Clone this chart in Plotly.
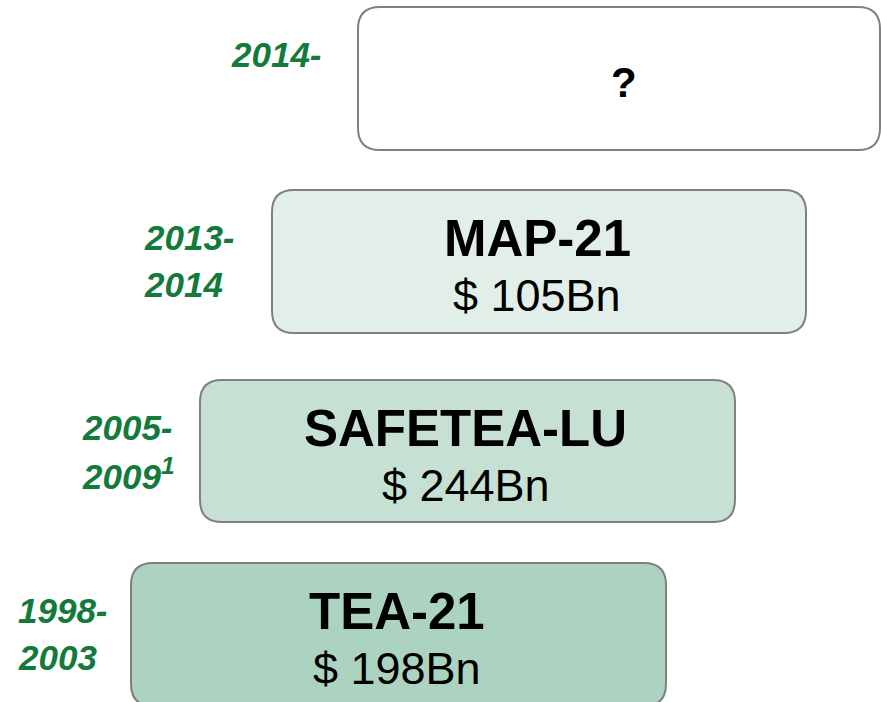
import plotly.graph_objects as go

# ---- data ----
programs = ["TEA-21", "SAFETEA-LU", "MAP-21", "?"]
amounts = ["$ 198Bn", "$ 244Bn", "$ 105Bn", ""]
year_start = ["1998-", "2005-", "2013-", "2014-"]
year_end = ["2003", "2009<sup>1</sup>", "2014", ""]

# ---- layout geometry (pixels) ----
W, H = 881, 702
box_x0 = [131, 200, 272, 358]
box_x1 = [666, 735, 806, 880]
box_y0 = [563, 380, 190, 7]
box_y1 = [706, 522, 333, 150]
fills = ["#acd3bf", "#c6e1d3", "#e2efe8", "#ffffff"]
label_x = [16, 80, 142, 229]
R = 22

GREEN = "#137a3b"
FONT = "Liberation Sans, Arial, sans-serif"


def rounded(x0, y0, x1, y1, r):
    return (f"M {x0+r},{y0} L {x1-r},{y0} Q {x1},{y0} {x1},{y0+r} "
            f"L {x1},{y1-r} Q {x1},{y1} {x1-r},{y1} L {x0+r},{y1} "
            f"Q {x0},{y1} {x0},{y1-r} L {x0},{y0+r} Q {x0},{y0} {x0+r},{y0} Z")


fig = go.Figure()
shapes = []
annotations = []
for i, name in enumerate(programs):
    x0, x1, y0, y1 = box_x0[i], box_x1[i], box_y0[i], box_y1[i]
    shapes.append(dict(type="path", path=rounded(x0, y0, x1, y1, R),
                       xref="x", yref="y", fillcolor=fills[i],
                       line=dict(color="#808080", width=2), layer="below"))
    cx = (x0 + x1) / 2
    cy = (y0 + y1) / 2
    if amounts[i]:
        annotations.append(dict(x=cx - 2, y=cy - 23, text=f"<b>{name}</b>", showarrow=False,
                                xref="x", yref="y", xanchor="center", yanchor="middle",
                                font=dict(family=FONT, size=51, color="#000000")))
        annotations.append(dict(x=cx - 2, y=cy + 34, text=amounts[i], showarrow=False,
                                xref="x", yref="y", xanchor="center", yanchor="middle",
                                font=dict(family=FONT, size=45, color="#000000")))
    else:
        annotations.append(dict(x=cx + 5, y=cy + 4, text=f"<b>{name}</b>", showarrow=False,
                                xref="x", yref="y", xanchor="center", yanchor="middle",
                                font=dict(family=FONT, size=42, color="#000000")))
    # year labels
    if year_end[i]:
        ys = [cy - 24, cy + 23]
        texts = [year_start[i], year_end[i]]
    else:
        ys = [cy - 24]
        texts = [year_start[i]]
    for t, yy in zip(texts, ys):
        annotations.append(dict(x=label_x[i], y=yy, text=f"<b><i>{t}</i></b>", showarrow=False,
                                xref="x", yref="y", xanchor="left", yanchor="middle",
                                font=dict(family=FONT, size=35, color=GREEN)))

fig.update_layout(
    width=W, height=H,
    margin=dict(l=0, r=0, t=0, b=0),
    paper_bgcolor="white", plot_bgcolor="white",
    xaxis=dict(range=[0, W], visible=False, fixedrange=True),
    yaxis=dict(range=[H, 0], visible=False, fixedrange=True),
    shapes=shapes, annotations=annotations, showlegend=False,
)
fig.write_html("out.html", config={"displayModeBar": False},
               post_script="document.body.style.margin='0';")
